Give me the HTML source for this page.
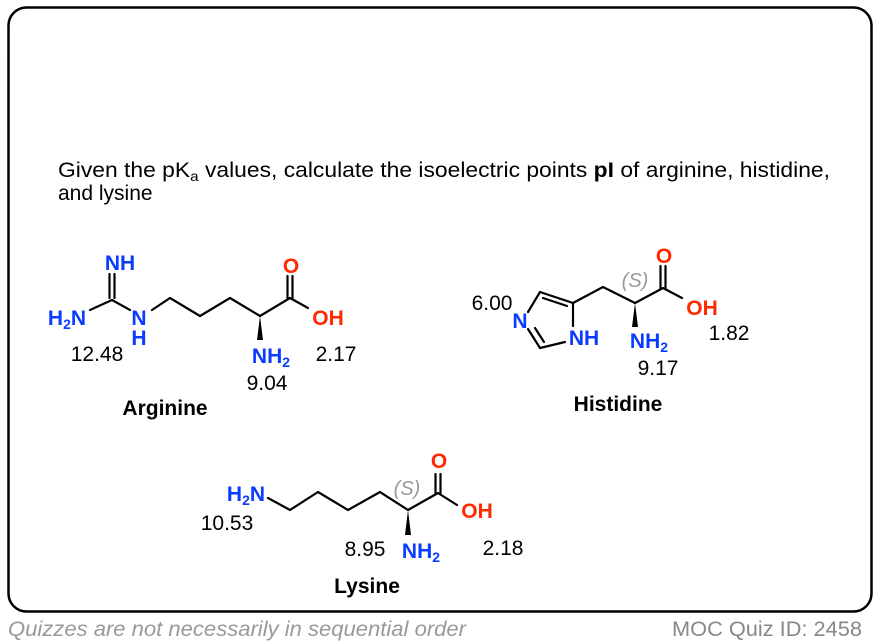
<!DOCTYPE html>
<html><head><meta charset="utf-8"><style>
html,body{margin:0;padding:0;background:#fff;}
svg{display:block;}
text{font-family:"Liberation Sans",Arial,sans-serif;}
.b{fill:#0a3cff;font-weight:bold;font-size:21px;}
.r{fill:#ff2a00;font-weight:bold;font-size:21px;}
.k{fill:#000;font-size:21px;}
.t{fill:#000;font-weight:bold;font-size:21px;}
.s{fill:#999;font-style:italic;font-size:20px;}
line,polyline{stroke:#000;stroke-width:2.2;fill:none;stroke-linecap:round;stroke-linejoin:round;}
</style></head><body>
<svg width="880" height="644" viewBox="0 0 880 644" xmlns="http://www.w3.org/2000/svg">
<rect x="8.5" y="7.5" width="863" height="604" rx="18" ry="18" fill="none" stroke="#000" stroke-width="2.5"/>

<text x="58" y="177" class="k" textLength="772" lengthAdjust="spacingAndGlyphs">Given the pK<tspan font-size="14" dy="4">a</tspan><tspan dy="-4"> values, calculate the isoelectric points </tspan><tspan font-weight="bold">pI</tspan> of arginine, histidine,</text>
<text x="58" y="200" class="k">and lysine</text>

<!-- Arginine -->
<line x1="109.5" y1="274" x2="109.5" y2="298"/>
<line x1="114.5" y1="274" x2="114.5" y2="298"/>
<line x1="112" y1="300" x2="90" y2="310"/>
<line x1="112" y1="300" x2="130" y2="310"/>
<polyline points="152,310 170,298 200,316 230,298 260,316 290,298 308,308"/>
<line x1="287.5" y1="298" x2="287.5" y2="276"/>
<line x1="292.5" y1="298" x2="292.5" y2="276"/>
<polygon points="260,316 257,340 263,340" fill="#000"/>
<text x="120" y="270" class="b" text-anchor="middle">NH</text>
<text x="67" y="325" class="b" text-anchor="middle">H<tspan font-size="14" dy="4">2</tspan><tspan dy="-4">N</tspan></text>
<text x="139" y="325" class="b" text-anchor="middle">N</text>
<text x="139" y="345" class="b" text-anchor="middle">H</text>
<text x="291" y="273" class="r" text-anchor="middle">O</text>
<text x="328" y="325" class="r" text-anchor="middle">OH</text>
<text x="271" y="363" class="b" text-anchor="middle">NH<tspan font-size="14" dy="4">2</tspan></text>
<text x="97" y="361" class="k" text-anchor="middle">12.48</text>
<text x="336" y="361" class="k" text-anchor="middle">2.17</text>
<text x="267" y="390" class="k" text-anchor="middle">9.04</text>
<text x="165" y="415" class="t" text-anchor="middle">Arginine</text>

<!-- Histidine -->
<line x1="528" y1="312" x2="540" y2="292"/>
<line x1="540" y1="292" x2="573" y2="303"/>
<line x1="543" y1="298" x2="567" y2="306"/>
<line x1="573" y1="303" x2="573" y2="326"/>
<line x1="565" y1="342" x2="540" y2="348"/>
<line x1="540" y1="348" x2="528" y2="329"/>
<line x1="544" y1="342" x2="535" y2="328"/>
<polyline points="573,303 603,287 635,303 663,288 682,298"/>
<line x1="660.5" y1="288" x2="660.5" y2="266"/>
<line x1="665.5" y1="288" x2="665.5" y2="266"/>
<polygon points="635,303 632,327 638,327" fill="#000"/>
<text x="520" y="328" class="b" text-anchor="middle">N</text>
<text x="584" y="345" class="b" text-anchor="middle">NH</text>
<text x="664" y="263" class="r" text-anchor="middle">O</text>
<text x="702" y="315" class="r" text-anchor="middle">OH</text>
<text x="635" y="287" class="s" text-anchor="middle">(S)</text>
<text x="649" y="348" class="b" text-anchor="middle">NH<tspan font-size="14" dy="4">2</tspan></text>
<text x="658" y="375" class="k" text-anchor="middle">9.17</text>
<text x="729" y="340" class="k" text-anchor="middle">1.82</text>
<text x="492" y="310" class="k" text-anchor="middle">6.00</text>
<text x="618" y="411" class="t" text-anchor="middle">Histidine</text>

<!-- Lysine -->
<polyline points="268,498 290,510 318,492 348,510 380,492 408,510 438,493 457,505"/>
<line x1="435.5" y1="493" x2="435.5" y2="474"/>
<line x1="440.5" y1="493" x2="440.5" y2="474"/>
<polygon points="408,510 405,535 411,535" fill="#000"/>
<text x="246" y="501" class="b" text-anchor="middle">H<tspan font-size="14" dy="4">2</tspan><tspan dy="-4">N</tspan></text>
<text x="439" y="468" class="r" text-anchor="middle">O</text>
<text x="477" y="518" class="r" text-anchor="middle">OH</text>
<text x="407" y="495" class="s" text-anchor="middle">(S)</text>
<text x="421" y="558" class="b" text-anchor="middle">NH<tspan font-size="14" dy="4">2</tspan></text>
<text x="365" y="556" class="k" text-anchor="middle">8.95</text>
<text x="503" y="555" class="k" text-anchor="middle">2.18</text>
<text x="227" y="530" class="k" text-anchor="middle">10.53</text>
<text x="367" y="593" class="t" text-anchor="middle">Lysine</text>

<text x="8" y="636" fill="#999" font-style="italic" font-size="21" textLength="458" lengthAdjust="spacingAndGlyphs">Quizzes are not necessarily in sequential order</text>
<text x="862" y="636" fill="#888" font-size="21" text-anchor="end" textLength="190" lengthAdjust="spacingAndGlyphs">MOC Quiz ID: 2458</text>
</svg>
</body></html>
